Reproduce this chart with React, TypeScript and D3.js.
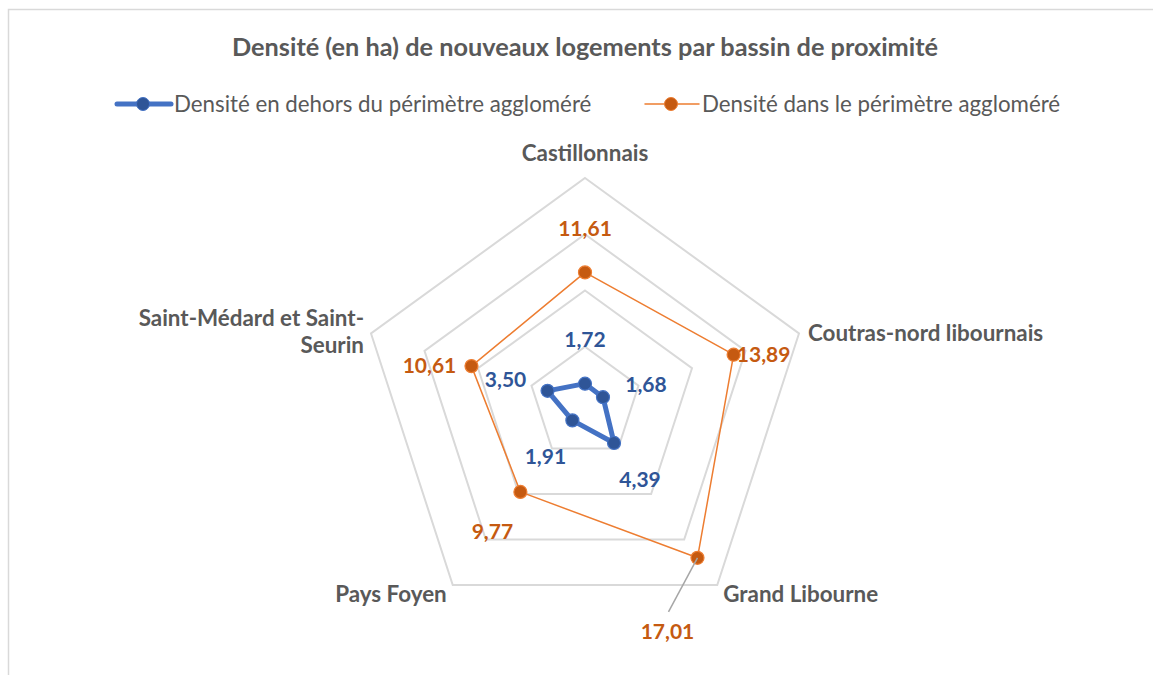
import React, { useEffect, useRef } from 'react';
import * as d3 from 'd3';

const categories = [
  'Castillonnais',
  'Coutras-nord libournais',
  'Grand Libourne',
  'Pays Foyen',
  'Saint-Médard et Saint-Seurin',
];
const horsValues = [1.72, 1.68, 4.39, 1.91, 3.5];
const dansValues = [11.61, 13.89, 17.01, 9.77, 10.61];
const seriesNames = ['Densité en dehors du périmètre aggloméré', 'Densité dans le périmètre aggloméré'];
const gridTicks = [5, 10, 15, 20];

// label nudges from the point, in px
const horsNudge = [[0, -44], [43, -12], [26, 37], [-27, 37], [-42, -11]];
const dansNudge = [[0, -43], [30, 0], [-30, 74], [-28, 40], [-42, 0]];

const W = 1153;
const H = 675;
const cx = 585;
const cy = 403;
const R = 225;
const FONT = "Lato, 'Liberation Sans', sans-serif";
const GRAY = '#595959';
const BLUE = '#4472C4';
const DARKBLUE = '#2F5597';
const ORANGE = '#ED7D31';
const DARKORANGE = '#C55A11';

export default function App() {
  const ref = useRef<SVGSVGElement>(null);

  useEffect(() => {
    const svg = d3.select(ref.current);
    svg.selectAll('*').remove();

    const r = d3.scaleLinear().domain([0, 20]).range([0, R]);
    const angle = (i: number) => (i * 2 * Math.PI) / categories.length;
    const px = (i: number, v: number) => cx + Math.sin(angle(i)) * r(v);
    const py = (i: number, v: number) => cy - Math.cos(angle(i)) * r(v);

    // chart border (cut off at right and bottom)
    svg.append('rect')
      .attr('x', 8.5).attr('y', 9.5)
      .attr('width', 1200).attr('height', 700)
      .attr('fill', '#fff')
      .attr('stroke', '#D9D9D9')
      .attr('stroke-width', 1.5);

    svg.append('text')
      .attr('x', cx).attr('y', 56)
      .attr('text-anchor', 'middle')
      .attr('font-family', FONT)
      .attr('font-size', 25.3)
      .attr('font-weight', 'bold')
      .attr('fill', GRAY)
      .text('Densité (en ha) de nouveaux logements par bassin de proximité');

    // legend
    const legend = [
      { x: 117, name: seriesNames[0], color: BLUE, mark: DARKBLUE, width: 5 },
      { x: 645, name: seriesNames[1], color: ORANGE, mark: DARKORANGE, width: 1.5 },
    ];
    legend.forEach(l => {
      const g = svg.append('g');
      g.append('line')
        .attr('x1', l.x).attr('x2', l.x + 54)
        .attr('y1', 104).attr('y2', 104)
        .attr('stroke', l.color)
        .attr('stroke-width', l.width)
        .attr('stroke-linecap', 'round');
      g.append('circle')
        .attr('cx', l.x + 26).attr('cy', 104).attr('r', 6.5)
        .attr('fill', l.mark)
        .attr('stroke', l.color).attr('stroke-width', 1);
      g.append('text')
        .attr('x', l.x + 57).attr('y', 112)
        .attr('font-family', FONT)
        .attr('font-size', 22.3)
        .attr('fill', GRAY)
        .text(l.name);
    });

    // grid pentagons
    const ring = d3.lineRadial<number>()
      .angle((_, i) => angle(i))
      .curve(d3.curveLinearClosed);
    svg.append('g')
      .attr('transform', `translate(${cx},${cy})`)
      .selectAll('path')
      .data(gridTicks)
      .enter().append('path')
      .attr('d', t => ring.radius(r(t))(categories.map(() => t)))
      .attr('fill', 'none')
      .attr('stroke', '#D9D9D9')
      .attr('stroke-width', 2);

    // category labels
    const outer = d3.max(gridTicks) as number;
    const catG = svg.append('g')
      .attr('font-family', FONT)
      .attr('font-size', 22.4)
      .attr('font-weight', 'bold')
      .attr('fill', GRAY);
    catG.append('text')
      .attr('x', px(0, outer)).attr('y', py(0, outer) - 17)
      .attr('text-anchor', 'middle')
      .text(categories[0]);
    catG.append('text')
      .attr('x', px(1, outer) + 9).attr('y', py(1, outer) + 8)
      .text(categories[1]);
    catG.append('text')
      .attr('x', px(2, outer) + 6).attr('y', py(2, outer) + 17)
      .text(categories[2]);
    catG.append('text')
      .attr('x', px(3, outer) - 6).attr('y', py(3, outer) + 17)
      .attr('text-anchor', 'end')
      .text(categories[3]);
    const sm = catG.append('text')
      .attr('x', px(4, outer) - 7).attr('y', py(4, outer) - 7)
      .attr('text-anchor', 'end');
    sm.append('tspan').text('Saint-Médard et Saint-');
    sm.append('tspan').attr('x', px(4, outer) - 7).attr('dy', 27).text('Seurin');

    const series = [
      { values: dansValues, nudge: dansNudge, line: ORANGE, mark: DARKORANGE, width: 1.5, label: DARKORANGE },
      { values: horsValues, nudge: horsNudge, line: BLUE, mark: DARKBLUE, width: 5, label: DARKBLUE },
    ];

    const fmt = (v: number) => d3.format('.2f')(v).replace('.', ',');

    series.forEach(s => {
      const g = svg.append('g');
      g.append('path')
        .attr('transform', `translate(${cx},${cy})`)
        .attr('d', d3.lineRadial<number>()
          .angle((_, i) => angle(i))
          .radius(v => r(v))
          .curve(d3.curveLinearClosed)(s.values))
        .attr('fill', 'none')
        .attr('stroke', s.line)
        .attr('stroke-width', s.width)
        .attr('stroke-linejoin', 'round');
      g.selectAll('circle')
        .data(s.values)
        .enter().append('circle')
        .attr('cx', (v, i) => px(i, v))
        .attr('cy', (v, i) => py(i, v))
        .attr('r', 6.5)
        .attr('fill', s.mark)
        .attr('stroke', s.line)
        .attr('stroke-width', 1.2);
    });

    // leader line for Grand Libourne orange label
    svg.append('line')
      .attr('x1', px(2, dansValues[2])).attr('y1', py(2, dansValues[2]))
      .attr('x2', px(2, dansValues[2]) + dansNudge[2][0] + 1)
      .attr('y2', py(2, dansValues[2]) + dansNudge[2][1] - 20)
      .attr('stroke', '#A6A6A6')
      .attr('stroke-width', 1.5);

    series.forEach(s => {
      svg.append('g')
        .selectAll('text')
        .data(s.values)
        .enter().append('text')
        .attr('x', (v, i) => px(i, v) + s.nudge[i][0])
        .attr('y', (v, i) => py(i, v) + s.nudge[i][1] + 7)
        .attr('text-anchor', 'middle')
        .attr('font-family', FONT)
        .attr('font-size', 21)
        .attr('font-weight', 'bold')
        .attr('fill', s.label)
        .text(v => fmt(v));
    });
  }, []);

  return (
    <svg
      ref={ref}
      width={W}
      height={H}
      style={{ position: 'absolute', left: 0, top: 0, background: '#fff' }}
    />
  );
}
